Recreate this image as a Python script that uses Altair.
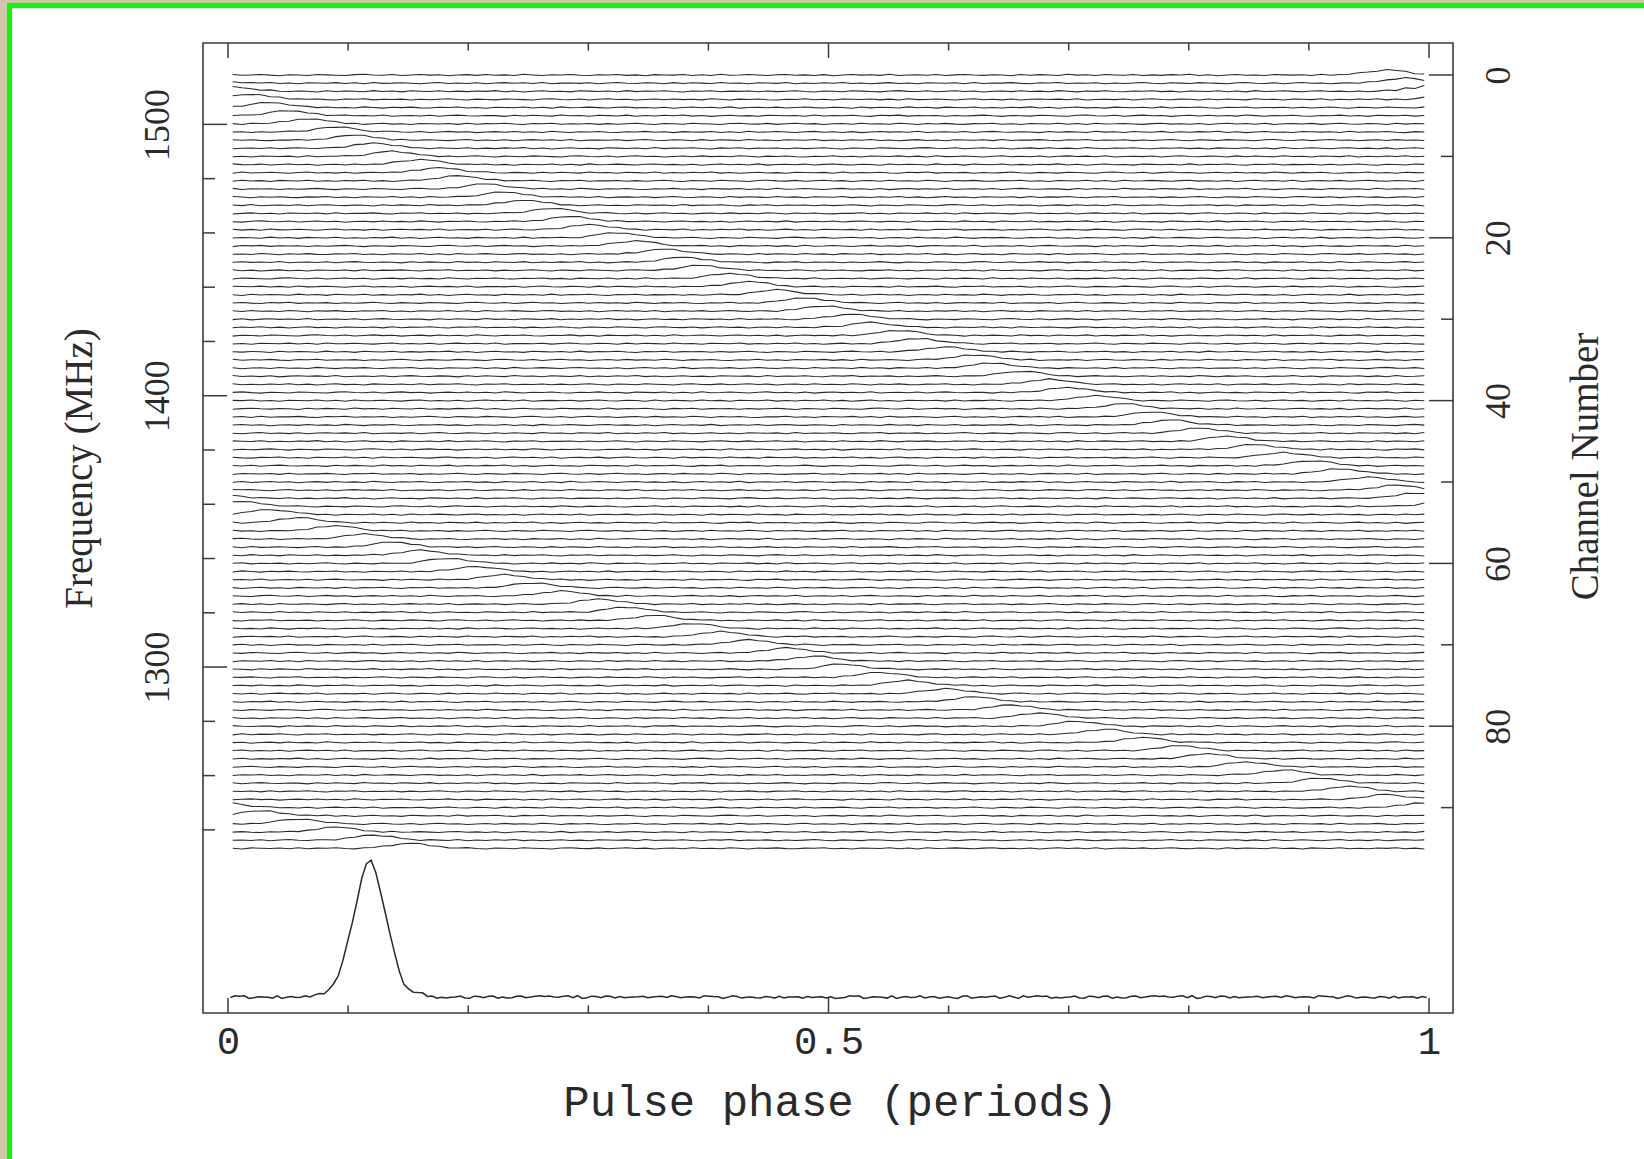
import altair as alt
import pandas as pd

# ---------------- data ----------------
N_CHAN = 96
N_BIN = 128
N_PROF = 256

# pulse phase (periods) of the dispersed pulse in each channel
CHANNEL_PHASE = [
    0.966, 0.983, 0.000, 0.017, 0.034, 0.051, 0.069, 0.086, 0.103, 0.121,
    0.139, 0.157, 0.175, 0.193, 0.211, 0.229, 0.247, 0.266, 0.284, 0.303,
    0.322, 0.341, 0.360, 0.379, 0.398, 0.418, 0.437, 0.457, 0.477, 0.497,
    0.517, 0.537, 0.557, 0.578, 0.598, 0.619, 0.640, 0.661, 0.682, 0.703,
    0.724, 0.746, 0.768, 0.789, 0.811, 0.833, 0.855, 0.878, 0.900, 0.923,
    0.946, 0.969, 0.992, 0.015, 0.038, 0.062, 0.086, 0.110, 0.134, 0.158,
    0.182, 0.207, 0.231, 0.256, 0.281, 0.306, 0.332, 0.357, 0.383, 0.409,
    0.435, 0.461, 0.488, 0.514, 0.541, 0.568, 0.595, 0.623, 0.650, 0.678,
    0.706, 0.734, 0.762, 0.791, 0.820, 0.849, 0.878, 0.907, 0.937, 0.966,
    0.996, 0.027, 0.057, 0.088, 0.119, 0.150,
]

# single-channel pulse shape (bins -6 .. +6 around the peak)
PULSE_SHAPE = [0.02, 0.06, 0.16, 0.35, 0.62, 0.88, 1.0, 0.88, 0.62, 0.35, 0.16, 0.06, 0.02]
PULSE_HEIGHT = 0.62     # in channel spacings
NOISE_LEVEL = 0.09      # in channel spacings

# hand-typed baseline wiggles
NOISE = [
    0.3, -0.5, 0.1, 0.8, -0.2, -0.9, 0.4, 0.0, -0.6, 0.7,
    0.2, -0.3, -0.8, 0.5, 0.9, -0.1, -0.4, 0.6, -0.7, 0.1,
    0.8, -0.2, 0.3, -0.9, 0.0, 0.5, -0.5, 0.7, -0.3, 0.2,
    -0.6, 0.9, 0.1, -0.8, 0.4, -0.1, 0.6, -0.4, -0.7, 0.3,
    0.0, 0.8, -0.5, 0.2, -0.9, 0.5, 0.1, -0.2, 0.7, -0.6,
    0.4, -0.8, 0.9, -0.3, 0.0, 0.6, -0.1, -0.7, 0.3, 0.8,
    -0.4, 0.2, -0.6, 0.5, -0.9, 0.1, 0.7, -0.2, 0.4, -0.5,
    0.9, -0.8, 0.0, 0.3, -0.3, 0.6, -0.7, 0.2, 0.8, -0.1,
    -0.5, 0.4, 0.1, -0.9, 0.7, -0.4, 0.5, 0.0, -0.6, 0.9,
    -0.2, 0.3, -0.8, 0.6, 0.1, -0.3, 0.8, -0.7, 0.2, -0.5,
    0.5, -0.1, 0.9, -0.6, 0.3, -0.9, 0.0, 0.7, -0.4, 0.1,
    -0.8, 0.6, 0.2, -0.2, 0.4, -0.7, 0.9, -0.5, 0.3, 0.0,
    0.7, -0.3, -0.9, 0.5, 0.1, 0.8, -0.6, 0.2, -0.1, 0.4,
    -0.7,
]

# integrated (dedispersed) profile: peak region, bins 17..41 of 256
PROFILE_PEAK_START = 17
PROFILE_PEAK = [1, 2, 3, 4.5, 8, 13, 22, 38, 55, 73, 97, 119, 133, 137, 124,
                104, 86, 64, 43, 26, 14, 7, 5, 4, 3]
PROFILE_NOISE = 1.5
PROFILE_BASE = 113.27          # channel-units position of profile baseline
PROFILE_UNIT = 1 / 8.14        # profile intensity -> channel units

# axes
X_MAJOR = [0.0, 0.5, 1.0]
X_MINOR = [0.1, 0.2, 0.3, 0.4, 0.6, 0.7, 0.8, 0.9]
CHAN_MAJOR = [0, 20, 40, 60, 80]
CHAN_MINOR = [10, 30, 50, 70, 90]
FREQ_MAJOR = [1300, 1400, 1500]
FREQ_MINOR = [1240, 1260, 1280, 1320, 1340, 1360, 1380, 1420, 1440, 1460, 1480]

# ---------------- build tables ----------------
rows = []
for c in range(N_CHAN):
    for i in range(N_BIN):
        ph = (i + 0.5) / N_BIN
        d = (ph - CHANNEL_PHASE[c] + 0.5) % 1.0 - 0.5
        k = int(round(d * N_BIN))
        s = PULSE_SHAPE[k + 6] if -6 <= k <= 6 else 0.0
        y = c - PULSE_HEIGHT * s - NOISE_LEVEL * NOISE[(i + 37 * c) % len(NOISE)]
        rows.append({"phase": ph, "y": y, "ch": c})
traces = pd.DataFrame(rows)

prow = []
for i in range(N_PROF):
    ph = (i + 0.5) / N_PROF
    v = PROFILE_NOISE * NOISE[(3 * i + 11) % len(NOISE)]
    j = i - PROFILE_PEAK_START
    if 0 <= j < len(PROFILE_PEAK):
        v += PROFILE_PEAK[j]
    prow.append({"phase": ph, "y": PROFILE_BASE - v * PROFILE_UNIT})
profile = pd.DataFrame(prow)

W, H = 1250, 970
INK = "#2a2a2a"
FRAME = "#3a3a3a"

x_scale = alt.Scale(domain=[-0.020816, 1.019983], nice=False, zero=False)
chan_scale = alt.Scale(domain=[-3.931, 115.23], reverse=True, nice=False, zero=False)
freq_scale = alt.Scale(domain=[1172.51, 1529.99], nice=False, zero=False)

x_axis = alt.Axis(
    orient="bottom", values=X_MAJOR, format=".1~f", title="Pulse phase (periods)",
    ticks=False, tickSize=0, domain=False, grid=False, labelFlush=False, labelOverlap=False,
    labelFont="Liberation Mono", labelFontSize=39, labelColor=INK,
    labelAlign="center", labelBaseline="alphabetic", labelPadding=40.5,
    titleFont="Liberation Mono", titleFontSize=44, titleFontWeight="normal", titleColor=INK,
    titleAlign="center", titleBaseline="alphabetic", titleX=637, titleY=102,
)
chan_axis = alt.Axis(
    orient="right", values=CHAN_MAJOR, title="Channel Number",
    ticks=False, tickSize=0, domain=False, grid=False, labelFlush=False, labelOverlap=False,
    labelFont="Liberation Serif", labelFontSize=36, labelColor=INK, labelAngle=270,
    labelAlign="center", labelBaseline="alphabetic", labelPadding=56,
    titleFont="Liberation Serif", titleFontSize=39, titleFontWeight="normal", titleColor=INK,
    titleAngle=270, titleAlign="center", titleBaseline="alphabetic", titleX=144, titleY=423,
)
freq_axis = alt.Axis(
    orient="left", values=FREQ_MAJOR, format="d", title="Frequency (MHz)",
    ticks=False, tickSize=0, domain=False, grid=False, labelFlush=False, labelOverlap=False,
    labelFont="Liberation Serif", labelFontSize=36, labelColor=INK, labelAngle=270,
    labelAlign="center", labelBaseline="alphabetic", labelPadding=35,
    titleFont="Liberation Serif", titleFontSize=39, titleFontWeight="normal", titleColor=INK,
    titleAngle=270, titleAlign="center", titleBaseline="alphabetic", titleX=-112, titleY=425,
)

X = alt.X("phase:Q", scale=x_scale, axis=x_axis)
YC = alt.Y("y:Q", scale=chan_scale, axis=chan_axis)
YF = alt.Y("freq:Q", scale=freq_scale, axis=freq_axis)

one = pd.DataFrame({"d": [0]})

# page decoration (beige strips and green border on top/left)
deco = [
    alt.Chart(one).mark_rect(color="#d3c5a9").encode(
        x=alt.value(-203), x2=alt.value(-196), y=alt.value(-43), y2=alt.value(H + 146)),
    alt.Chart(one).mark_rect(color="#d3c5a9").encode(
        x=alt.value(-203), x2=alt.value(W + 191), y=alt.value(-43), y2=alt.value(-40)),
    alt.Chart(one).mark_rect(color="#00ff00").encode(
        x=alt.value(-196), x2=alt.value(-191), y=alt.value(-40), y2=alt.value(H + 146)),
    alt.Chart(one).mark_rect(color="#00ff00").encode(
        x=alt.value(-196), x2=alt.value(W + 191), y=alt.value(-40), y2=alt.value(-35)),
]

trace_layer = alt.Chart(traces).mark_line(color=INK, strokeWidth=1.05).encode(
    x=X, y=YC, detail="ch:N")
profile_layer = alt.Chart(profile).mark_line(color=INK, strokeWidth=1.5).encode(x=X, y=YC)

xmaj = pd.DataFrame({"phase": X_MAJOR})
xmin = pd.DataFrame({"phase": X_MINOR})
cmaj = pd.DataFrame({"y": CHAN_MAJOR})
cmin = pd.DataFrame({"y": CHAN_MINOR})
fmaj = pd.DataFrame({"freq": FREQ_MAJOR})
fmin = pd.DataFrame({"freq": FREQ_MINOR})

tick = dict(color=FRAME, strokeWidth=1.5)
tick_layers = [
    alt.Chart(xmaj).mark_rule(**tick).encode(x=X, y=alt.value(0), y2=alt.value(15)),
    alt.Chart(xmin).mark_rule(**tick).encode(x=X, y=alt.value(0), y2=alt.value(7.5)),
    alt.Chart(xmaj).mark_rule(**tick).encode(x=X, y=alt.value(H), y2=alt.value(H - 15)),
    alt.Chart(xmin).mark_rule(**tick).encode(x=X, y=alt.value(H), y2=alt.value(H - 7.5)),
    alt.Chart(cmaj).mark_rule(**tick).encode(y=YC, x=alt.value(W), x2=alt.value(W - 24)),
    alt.Chart(cmin).mark_rule(**tick).encode(y=YC, x=alt.value(W), x2=alt.value(W - 12)),
]

chan_group = alt.layer(*deco, trace_layer, profile_layer, *tick_layers)
freq_group = alt.layer(
    alt.Chart(fmaj).mark_rule(**tick).encode(y=YF, x=alt.value(0), x2=alt.value(24)),
    alt.Chart(fmin).mark_rule(**tick).encode(y=YF, x=alt.value(0), x2=alt.value(12)),
)

chart = alt.layer(chan_group, freq_group).resolve_scale(y="independent").properties(
    width=W, height=H,
    autosize=alt.AutoSizeParams(type="none"),
    padding={"left": 203, "top": 43, "right": 191, "bottom": 146},
    background="white",
).configure_view(stroke=FRAME, strokeWidth=1.6)

chart.save("out.html", embed_options={"renderer": "svg", "actions": False})
